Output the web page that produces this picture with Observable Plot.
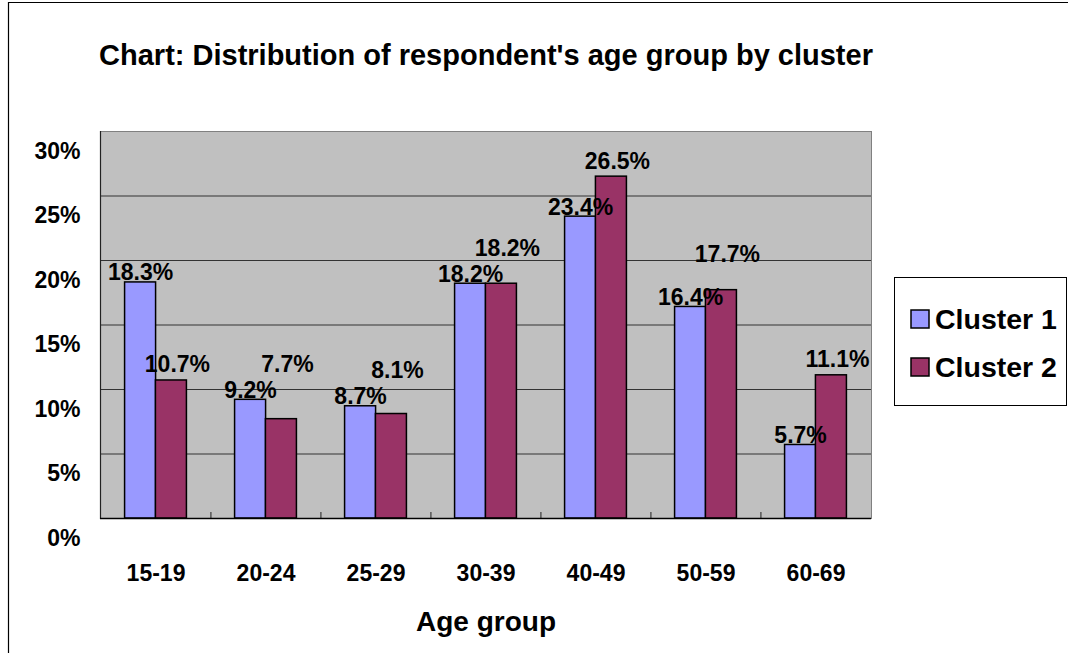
<!DOCTYPE html>
<html>
<head>
<meta charset="utf-8">
<script src="https://cdn.jsdelivr.net/npm/d3@7"></script>
<script src="https://cdn.jsdelivr.net/npm/@observablehq/plot@0.6"></script>
<style>
  html, body { margin: 0; padding: 0; background: white; }
  #chart { width: 1068px; height: 653px; overflow: hidden; }
</style>
</head>
<body>
<div id="chart"></div>
<script>
const ages = ["15-19", "20-24", "25-29", "30-39", "40-49", "50-59", "60-69"];
const cluster1 = [18.3, 9.2, 8.7, 18.2, 23.4, 16.4, 5.7];
const cluster2 = [10.7, 7.7, 8.1, 18.2, 26.5, 17.7, 11.1];
const seriesNames = ["Cluster 1", "Cluster 2"];
const yTicks = [0, 5, 10, 15, 20, 25, 30];
const titleText = "Chart: Distribution of respondent's age group by cluster";
const xTitle = "Age group";

const colors = ["#9999FF", "#993366"];

const W = 1068, H = 653;
const mL = 100, mR = W - 871, mT = 131, mB = H - 518;
const pIn = 0.72, pOut = 0.36;
const step = (W - mL - mR) / (ages.length - pIn + 2 * pOut);
const bw = step * (1 - pIn);
const font = "'Liberation Sans', Arial, sans-serif";

// lift a Cluster 2 label above its neighbour when the two values are close (avoid text collisions)
const pxPerUnit = (H - mT - mB) / 30;
const minGap = 20 / pxPerUnit;
const rows = ages.map((a, i) => {
  const c1 = cluster1[i], c2 = cluster2[i];
  const c2Label = Math.abs(c1 - c2) < minGap ? Math.max(c1, c2) + minGap : c2;
  return {age: a, c1, c2, c2Label};
});

const plot = Plot.plot({
  width: W,
  height: H,
  marginLeft: mL,
  marginRight: mR,
  marginTop: mT,
  marginBottom: mB,
  style: {fontFamily: font, color: "black", background: "white", overflow: "visible"},
  x: {domain: ages, paddingInner: pIn, paddingOuter: pOut, align: 0.5},
  y: {domain: [0, 30]},
  marks: [
    Plot.frame({fill: "#C0C0C0", stroke: "#808080"}),
    Plot.ruleY(yTicks.filter(d => d > 0 && d < 30), {stroke: "#333333", strokeWidth: 1}),
    Plot.frame({anchor: "left", stroke: "#222", strokeWidth: 1.2}),
    Plot.ruleX(ages.slice(1), {stroke: "#222", strokeWidth: 1, dx: -step / 2, insetTop: (H - mT - mB) - 6}),
    Plot.barY(rows, {x: "age", y: "c1", fill: colors[0], stroke: "black", strokeWidth: 1.5, dx: -bw / 2}),
    Plot.barY(rows, {x: "age", y: "c2", fill: colors[1], stroke: "black", strokeWidth: 1.5, dx: bw / 2}),
    Plot.ruleY([0], {stroke: "black", strokeWidth: 1.5}),
    Plot.text(rows, {x: "age", y: "c1", text: d => d.c1.toFixed(1) + "%", dx: -bw / 2, dy: -2,
      lineAnchor: "bottom", fontSize: 23, fontWeight: "bold", fill: "black"}),
    Plot.text(rows, {x: "age", y: "c2Label", text: d => d.c2.toFixed(1) + "%", dx: bw / 2 + 6, dy: -8,
      lineAnchor: "bottom", fontSize: 23, fontWeight: "bold", fill: "black"}),
    Plot.axisY({ticks: yTicks, tickFormat: d => d + "%", tickSize: 0, tickPadding: 20, dy: 20,
      fontSize: 23, fontWeight: "bold", label: null, fill: "black"}),
    Plot.axisX({tickSize: 0, tickPadding: 46, fontSize: 23, fontWeight: "bold", label: null, fill: "black"}),
    Plot.text([titleText], {frameAnchor: "top", dy: -67, lineAnchor: "bottom", fontSize: 29,
      fontWeight: "bold", fill: "black"}),
    Plot.text([xTitle], {frameAnchor: "bottom", dy: 112, lineAnchor: "bottom", fontSize: 28,
      fontWeight: "bold", fill: "black"})
  ]
});

document.getElementById("chart").appendChild(plot);

// outer chart border (left and top edges visible) and legend
const svg = d3.select(plot);
svg.append("path")
  .attr("d", `M8.5,${H + 5} V2.5 H${W + 5}`)
  .attr("fill", "none").attr("stroke", "black").attr("stroke-width", 1.2);

const lg = svg.append("g").attr("text-anchor", "start");
lg.append("rect").attr("x", 894.5).attr("y", 277.5).attr("width", 172).attr("height", 128)
  .attr("fill", "white").attr("stroke", "black").attr("stroke-width", 1);
seriesNames.forEach((name, i) => {
  const y0 = 310 + i * 48;
  lg.append("rect").attr("x", 911).attr("y", y0).attr("width", 18).attr("height", 18)
    .attr("fill", colors[i]).attr("stroke", "black").attr("stroke-width", 1.5);
  lg.append("text").attr("x", 935).attr("y", y0 + 18.5)
    .attr("text-anchor", "start")
    .attr("font-family", font).attr("font-size", 28.5).attr("font-weight", "bold")
    .attr("fill", "black").text(name);
});
</script>
</body>
</html>
